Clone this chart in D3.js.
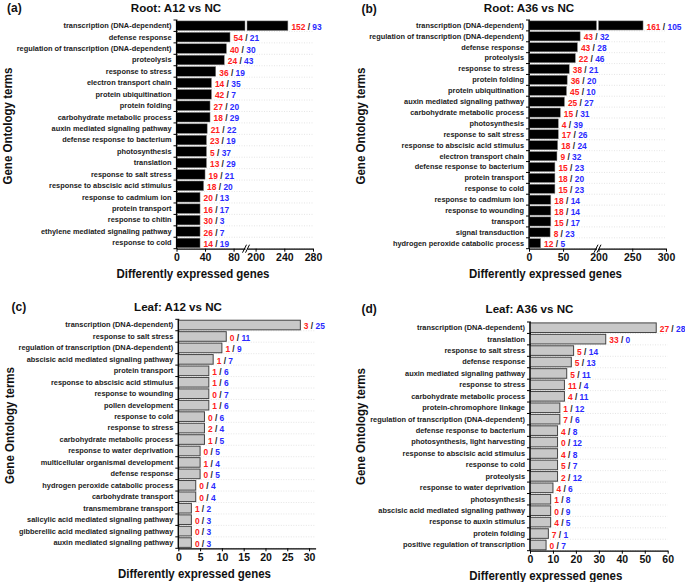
<!DOCTYPE html>
<html><head><meta charset="utf-8">
<script src="https://cdn.jsdelivr.net/npm/d3@7"></script>
<style>
body{margin:0;background:#fff}
svg{display:block;font-family:"Liberation Sans",Arial,sans-serif;font-weight:bold}
</style>
</head><body>
<svg id="c" width="685" height="582"></svg>
<script>
// ---------- DATA ----------
const aTerms=["transcription (DNA-dependent)","defense response","regulation of transcription (DNA-dependent)","proteolysis","response to stress","electron transport chain","protein ubiquitination","protein folding","carbohydrate metabolic process","auxin mediated signaling pathway","defense response to bacterium","photosynthesis","translation","response to salt stress","response to abscisic acid stimulus","response to cadmium ion","protein transport","response to chitin","ethylene mediated signaling pathway","response to cold"];
const aUp=[152,54,40,24,36,14,42,27,18,21,23,5,13,19,18,20,16,30,26,14];
const aDown=[93,21,30,43,19,35,7,20,29,22,19,37,29,21,20,13,17,3,7,19];
const aTotal=[245,75,70,67,55,49,49,47,47,43,42,42,42,40,38,33,33,33,33,33];
const aTicks=[0,40,80,200,240,280];

const bTerms=["transcription (DNA-dependent)","regulation of transcription (DNA-dependent)","defense response","proteolysis","response to stress","protein folding","protein ubiquitination","auxin mediated signaling pathway","carbohydrate metabolic process","photosynthesis","response to salt stress","response to abscisic acid stimulus","electron transport chain","defense response to bacterium","protein transport","response to cold","response to cadmium ion","response to wounding","transport","signal transduction","hydrogen peroxide catabolic process"];
const bUp=[161,43,43,22,38,36,45,25,15,4,17,18,9,15,18,15,18,18,15,8,12];
const bDown=[105,32,28,46,21,20,10,27,31,39,26,24,32,23,20,23,14,14,17,23,5];
const bTotal=[266,75,71,68,59,56,55,52,46,43,43,42,41,38,38,38,32,32,32,31,17];
const bTicks=[0,50,200,250,300];

const cTerms=["transcription (DNA-dependent)","response to salt stress","regulation of transcription (DNA-dependent)","abscisic acid mediated signaling pathway","protein transport","response to abscisic acid stimulus","response to wounding","pollen development","response to cold","response to stress","carbohydrate metabolic process","response to water deprivation","multicellular organismal development","defense response","hydrogen peroxide catabolic process","carbohydrate transport","transmembrane transport","salicylic acid mediated signaling pathway","gibberellic acid mediated signaling pathway","auxin mediated signaling pathway"];
const cUp=[3,0,1,1,1,1,0,1,0,2,1,0,1,0,0,0,1,0,0,0];
const cDown=[25,11,9,7,6,6,7,6,6,4,5,5,4,5,4,4,2,3,3,3];
const cTotal=[28,11,10,8,7,7,7,7,6,6,6,5,5,5,4,4,3,3,3,3];
const cTicks=[0,5,10,15,20,25,30];

const dTerms=["transcription (DNA-dependent)","translation","response to salt stress","defense response","auxin mediated signaling pathway","response to stress","carbohydrate metabolic process","protein-chromophore linkage","regulation of transcription (DNA-dependent)","defense response to bacterium","photosynthesis, light harvesting","response to abscisic acid stimulus","response to cold","proteolysis","response to water deprivation","photosynthesis","abscisic acid mediated signaling pathway","response to auxin stimulus","protein folding","positive regulation of transcription"];
const dUp=[27,33,5,5,5,11,4,1,7,4,0,4,5,2,4,1,0,4,7,0];
const dDown=[28,0,14,13,11,4,11,12,6,8,12,8,7,12,6,8,9,5,1,7];
const dTotal=[55,33,19,18,16,15,15,13,13,12,12,12,12,12,10,9,9,9,8,7];
const dTicks=[0,10,20,30,40,50,60];

// ---------- DRAW ----------
const svg=d3.select("#c");
const RED="#ff2020", BLUE="#2a2aff";

function makeScale(segs){
  const sc=segs.map(s=>d3.scaleLinear().domain(s.domain).range(s.range));
  const f=v=>{ for(let i=0;i<sc.length;i++){ if(v<=segs[i].domain[1]||i===sc.length-1) return sc[i](v);} };
  f.segs=sc; return f;
}

function panel(p){
  const g=svg.append("g");
  const y=d3.scaleBand().domain(p.terms).range([p.top,p.bottom]).paddingInner(0.16).paddingOuter(0.08);
  const x=makeScale(p.segs);
  const x0=p.segs[0].range[0], xEnd=p.segs[p.segs.length-1].range[1];
  const step=y.step();
  const bounds=d3.range(p.terms.length+1).map(i=>p.top+i*step);

  // dotted gridlines
  g.selectAll(".grid").data(bounds.slice(1)).join("line")
    .attr("x1",x0).attr("x2",xEnd).attr("y1",d=>d).attr("y2",d=>d)
    .attr("stroke","#d4d4d4").attr("stroke-width",0.6).attr("stroke-dasharray","1,1.5");

  // bars
  const rows=p.terms.map((t,i)=>({t,up:p.up[i],down:p.down[i],tot:p.total[i]}));
  rows.forEach(r=>{
    const pieces=[];
    if(p.segs.length>1 && r.tot>p.segs[0].domain[1]){
      pieces.push([x.segs[0](0),x.segs[0](p.segs[0].domain[1])]);
      pieces.push([x.segs[1](p.segs[1].domain[0]),x.segs[1](r.tot)]);
    } else pieces.push([x(0),x(r.tot)]);
    pieces.forEach(pc=>{
      g.append("rect").attr("x",pc[0]).attr("y",y(r.t)).attr("width",pc[1]-pc[0]).attr("height",y.bandwidth())
        .attr("fill",p.fill).attr("stroke",p.stroke).attr("stroke-width",p.sw);
    });
    const end=pieces[pieces.length-1][1];
    const tx=g.append("text").attr("x",end+3.5).attr("y",y(r.t)+y.bandwidth()/2+1.2).attr("dy","0.35em")
      .attr("font-size",8.4);
    tx.append("tspan").attr("fill",RED).text(r.up);
    tx.append("tspan").attr("fill","#222").text(" / ");
    tx.append("tspan").attr("fill",BLUE).text(r.down);
  });

  // y axis
  const ya=g.append("g").attr("transform",`translate(${x0},0)`)
    .call(d3.axisLeft(y).tickSize(0).tickPadding(5).tickSizeOuter(0));
  ya.select(".domain").attr("stroke","#000").attr("stroke-width",1.2).attr("d",`M0,${p.top}V${p.bottom}`);
  ya.selectAll("text").attr("font-size",7.4).attr("fill","#222").attr("font-family",null);
  g.selectAll(".yt").data(bounds).join("line")
    .attr("x1",x0-3).attr("x2",x0+1).attr("y1",d=>d).attr("y2",d=>d).attr("stroke","#000").attr("stroke-width",1);

  // x axis segments
  p.segs.forEach((s,i)=>{
    const tv=p.ticks.filter(t=>t>=s.domain[0]&&t<=s.domain[1]);
    const xa=g.append("g").attr("transform",`translate(0,${p.bottom})`)
      .call(d3.axisBottom(x.segs[i]).tickValues(tv).tickSize(3).tickSizeOuter(0).tickPadding(2));
    xa.select(".domain").attr("stroke","#000").attr("stroke-width",1.2);
    xa.selectAll(".tick line").attr("stroke","#000").attr("stroke-width",1);
    xa.selectAll("text").attr("font-size",10.5).attr("fill","#111").attr("font-family",null);
  });
  if(p.segs.length>1){
    const bx=(p.segs[0].range[1]+p.segs[1].range[0])/2;
    [-1.5,1.5].forEach(o=>{
      g.append("line").attr("x1",bx+o-2).attr("y1",p.bottom+4).attr("x2",bx+o+2).attr("y2",p.bottom-4)
        .attr("stroke","#000").attr("stroke-width",1);
    });
  }

  // titles
  g.append("text").attr("x",p.titleX).attr("y",p.titleY).attr("dy","0.35em").attr("text-anchor","middle")
    .attr("font-size",11.6).attr("fill","#111").text(p.title);
  g.append("text").attr("x",p.letterX).attr("y",p.titleY).attr("dy","0.35em")
    .attr("font-size",12).attr("fill","#111").text(p.letter);
  g.append("text").attr("x",p.xtX).attr("y",p.xtY).attr("dy","0.35em").attr("text-anchor","middle")
    .attr("font-size",12.5).attr("textLength",153).attr("lengthAdjust","spacingAndGlyphs")
    .attr("fill","#111").text("Differently expressed genes");
  g.append("text").attr("transform",`translate(${p.ytX},${p.ytY}) rotate(-90)`).attr("dy","0.35em")
    .attr("text-anchor","middle").attr("font-size",13.5).attr("textLength",117).attr("lengthAdjust","spacingAndGlyphs")
    .attr("fill","#111").text("Gene Ontology terms");
}

panel({terms:aTerms,up:aUp,down:aDown,total:aTotal,ticks:aTicks,top:20,bottom:248.7,
  segs:[{domain:[0,96],range:[176.5,245]},{domain:[188,280],range:[247,313]}],
  fill:"#000",stroke:"#888",sw:0.5,title:"Root: A12 vs NC",letter:"(a)",titleX:176,titleY:7.5,letterX:7,
  xtX:193,xtY:274,ytX:7,ytY:126});
panel({terms:bTerms,up:bUp,down:bDown,total:bTotal,ticks:bTicks,top:20,bottom:248.7,
  segs:[{domain:[0,99],range:[529,596.5]},{domain:[200,300],range:[598.5,666]}],
  fill:"#000",stroke:"#888",sw:0.5,title:"Root: A36 vs NC",letter:"(b)",titleX:529,titleY:8.3,letterX:361.5,
  xtX:545.5,xtY:274,ytX:360,ytY:126});
panel({terms:cTerms,up:cUp,down:cDown,total:cTotal,ticks:cTicks,top:319.3,bottom:548.3,
  segs:[{domain:[0,31.5],range:[178.3,315.6]}],
  fill:"#c8c8c8",stroke:"#444",sw:1,title:"Leaf: A12 vs NC",letter:"(c)",titleX:178,titleY:306.7,letterX:11.5,
  xtX:194.5,xtY:573.3,ytX:9,ytY:425.5});
panel({terms:dTerms,up:dUp,down:dDown,total:dTotal,ticks:dTicks,top:322,bottom:550.7,
  segs:[{domain:[0,60],range:[530,667.7]}],
  fill:"#c8c8c8",stroke:"#444",sw:1,title:"Leaf: A36 vs NC",letter:"(d)",titleX:529.5,titleY:309,letterX:361.5,
  xtX:545.8,xtY:575.7,ytX:360,ytY:426.5});
</script>
</body></html>
